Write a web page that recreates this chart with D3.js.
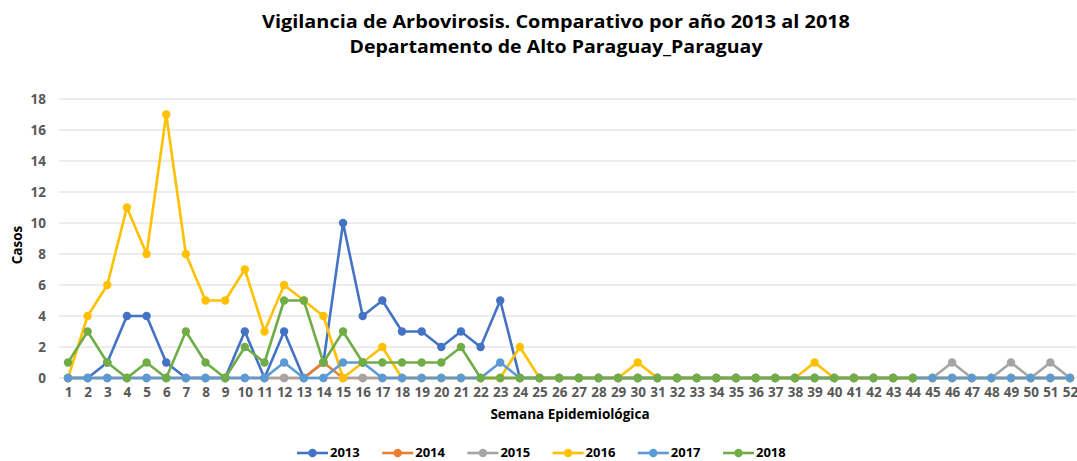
<!DOCTYPE html>
<html>
<head>
<meta charset="utf-8">
<script src="https://cdn.jsdelivr.net/npm/d3@7"></script>
<style>
  body { margin: 0; background: #fff; }
  text { font-family: "Open Sans", sans-serif; }
</style>
</head>
<body>
<div id="chart"></div>
<script>
// weeks 1..52
var weeks = d3.range(1, 53);
var years = ['2013', '2014', '2015', '2016', '2017', '2018'];
var colors = ['#4472C4', '#ED7D31', '#A5A5A5', '#FFC000', '#5B9BD5', '#70AD47'];
var yTicks = [0, 2, 4, 6, 8, 10, 12, 14, 16, 18];

var cases2013 = [0,0,1,4,4,1,0,0,0,3,0,3,0,1,10,4,5,3,3,2,3,2,5,0,0,0,0,0,0,0,0,0,0,0,0,0,0,0,0,0,0,0,0,0,0,0,0,0,0,0,0,0];
var cases2014 = [0,0,0,0,0,0,0,0,0,0,0,0,0,1,0,0,0,0,0,0,0,0,0,0,0,0,0,0,0,0,0,0,0,0,0,0,0,0,0,0,0,0,0,0,0,0,0,0,0,0,0,0];
var cases2015 = [0,0,0,0,0,0,0,0,0,0,0,0,0,0,0,0,0,0,0,0,0,0,0,0,0,0,0,0,0,0,0,0,0,0,0,0,0,0,0,0,0,0,0,0,0,1,0,0,1,0,1,0];
var cases2016 = [0,4,6,11,8,17,8,5,5,7,3,6,5,4,0,1,2,0,0,0,0,0,0,2,0,0,0,0,0,1,0,0,0,0,0,0,0,0,1,0,0,0,0,0,0,0,0,0,0,0,0,0];
var cases2017 = [0,0,0,0,0,0,0,0,0,0,0,1,0,0,1,1,0,0,0,0,0,0,1,0,0,0,0,0,0,0,0,0,0,0,0,0,0,0,0,0,0,0,0,0,0,0,0,0,0,0,0,0];
var cases2018 = [1,3,1,0,1,0,3,1,0,2,1,5,5,1,3,1,1,1,1,1,2,0,0,0,0,0,0,0,0,0,0,0,0,0,0,0,0,0,0,0,0,0,0,0];

var allCases = [cases2013, cases2014, cases2015, cases2016, cases2017, cases2018];

var width = 1077, height = 461;

var svg = d3.select('#chart').append('svg')
  .attr('width', width)
  .attr('height', height);

var x = d3.scalePoint()
  .domain(weeks)
  .range([68, 1070]);

var y = d3.scaleLinear()
  .domain([0, 18])
  .range([378, 99]);

// gridlines
svg.append('g')
  .selectAll('line')
  .data(yTicks)
  .enter()
  .append('line')
  .attr('x1', 59)
  .attr('x2', 1076)
  .attr('y1', d => y(d))
  .attr('y2', d => y(d))
  .attr('stroke', '#d9d9d9')
  .attr('stroke-width', 1);

// y axis labels
var yAxis = d3.axisLeft(y)
  .tickValues(yTicks)
  .tickSize(0)
  .tickPadding(0);

svg.append('g')
  .attr('transform', 'translate(46,0)')
  .call(yAxis)
  .call(g => g.select('.domain').remove())
  .selectAll('text')
  .attr('fill', '#595959')
  .style('font-size', '13.5px')
  .style('font-weight', 'bold');

// x axis labels
var xAxis = d3.axisBottom(x)
  .tickSize(0)
  .tickPadding(0);

svg.append('g')
  .attr('transform', 'translate(0,387)')
  .call(xAxis)
  .call(g => g.select('.domain').remove())
  .selectAll('text')
  .attr('fill', '#595959')
  .style('font-size', '13.5px')
  .style('font-weight', 'bold');

// lines
var line = d3.line()
  .x((d, i) => x(weeks[i]))
  .y(d => y(d));

years.forEach(function (yr, k) {
  var g = svg.append('g').attr('class', 'series');
  g.append('path')
    .datum(allCases[k])
    .attr('fill', 'none')
    .attr('stroke', colors[k])
    .attr('stroke-width', 2.6)
    .attr('stroke-linejoin', 'round')
    .attr('d', line);
  g.selectAll('circle')
    .data(allCases[k])
    .enter()
    .append('circle')
    .attr('cx', (d, i) => x(weeks[i]))
    .attr('cy', d => y(d))
    .attr('r', 4.2)
    .attr('fill', colors[k]);
});

// titles
svg.append('text')
  .attr('x', 556)
  .attr('y', 28)
  .attr('text-anchor', 'middle')
  .style('font-size', '17px')
  .style('font-weight', 'bold')
  .attr('textLength', 588)
  .attr('lengthAdjust', 'spacingAndGlyphs')
  .text('Vigilancia de Arbovirosis. Comparativo por año 2013 al 2018');

svg.append('text')
  .attr('x', 556)
  .attr('y', 53)
  .attr('text-anchor', 'middle')
  .style('font-size', '17px')
  .style('font-weight', 'bold')
  .attr('textLength', 413)
  .attr('lengthAdjust', 'spacingAndGlyphs')
  .text('Departamento de Alto Paraguay_Paraguay');

svg.append('text')
  .attr('transform', 'translate(22,245) rotate(-90)')
  .attr('text-anchor', 'middle')
  .style('font-size', '13.5px')
  .style('font-weight', 'bold')
  .attr('fill', '#000')
  .text('Casos');

svg.append('text')
  .attr('x', 570)
  .attr('y', 419)
  .attr('text-anchor', 'middle')
  .style('font-size', '13.5px')
  .style('font-weight', 'bold')
  .attr('fill', '#000')
  .text('Semana Epidemiológica');

// legend
var legend = svg.append('g')
  .selectAll('g')
  .data(years)
  .enter()
  .append('g')
  .attr('transform', (d, i) => 'translate(' + (297 + i * 85.2) + ',453)');

legend.append('line')
  .attr('x1', 0)
  .attr('x2', 31)
  .attr('stroke', (d, i) => colors[i])
  .attr('stroke-width', 2.6);

legend.append('circle')
  .attr('cx', 15.5)
  .attr('r', 4.2)
  .attr('fill', (d, i) => colors[i]);

legend.append('text')
  .attr('x', 33)
  .attr('y', 4)
  .style('font-size', '13px')
  .style('font-weight', 'bold')
  .attr('fill', '#000')
  .text(d => d);
</script>
</body>
</html>
